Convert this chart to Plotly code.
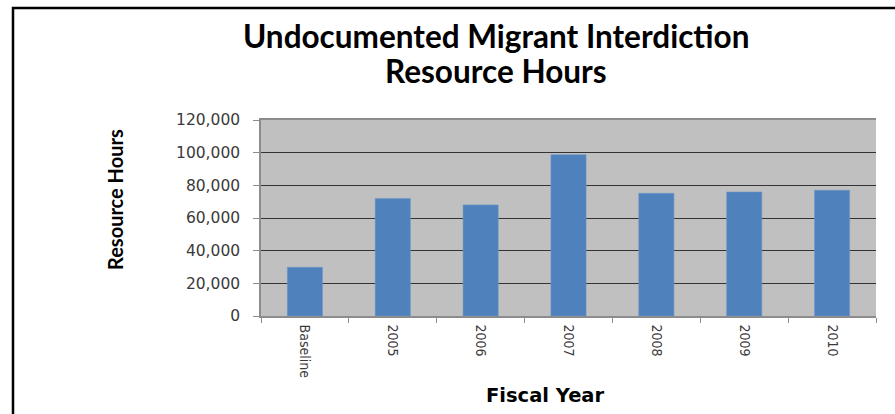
import plotly.graph_objects as go

# Fiscal years and resource hours
categories = ["Baseline", "2005", "2006", "2007", "2008", "2009", "2010"]
hours = [29800, 72000, 68000, 98800, 75100, 75900, 77000]
y_ticks = [0, 20000, 40000, 60000, 80000, 100000, 120000]
y_tick_labels = ["0", "20,000", "40,000", "60,000", "80,000", "100,000", "120,000"]
title_lines = ["Undocumented Migrant Interdiction", "Resource Hours"]

W, H = 895, 414
L, R, T, B = 261, 19, 120, 98
pw, ph = W - L - R, H - T - B


def px_x(x):
    return (x - L) / pw


def px_y(y):
    return (T + ph - y) / ph


fig = go.Figure(
    go.Bar(
        x=categories,
        y=hours,
        marker=dict(color="#4F81BD", line=dict(color="#6F96C8", width=0.6)),
    )
)

fig.update_layout(
    width=W,
    height=H,
    margin=dict(l=L, r=R, t=T, b=B, pad=0),
    paper_bgcolor="white",
    plot_bgcolor="#C0C0C0",
    bargap=0.6,
    showlegend=False,
    font=dict(family="DejaVu Sans", color="#3a3a3a"),
)

fig.update_xaxes(
    type="category",
    tickangle=90,
    ticks="outside",
    tickson="boundaries",
    ticklen=5,
    tickcolor="#8c8c8c",
    showline=True,
    linecolor="#8c8c8c",
    linewidth=1.5,
    mirror=True,
    showgrid=False,
    ticklabelstandoff=4,
    tickfont=dict(family="DejaVu Sans Condensed, DejaVu Sans", size=14, color="#3a3a3a"),
)

fig.update_yaxes(
    range=[0, 120000],
    tickvals=y_ticks,
    ticktext=y_tick_labels,
    ticks="outside",
    ticklen=6,
    tickcolor="#8c8c8c",
    showline=True,
    linecolor="#8c8c8c",
    linewidth=1.5,
    showgrid=True,
    gridcolor="#333333",
    gridwidth=1,
    zeroline=False,
    ticklabelstandoff=10,
    tickfont=dict(family="DejaVu Sans", size=15.5, color="#3a3a3a"),
)

# Title, one annotation per line
for line, yc in zip(title_lines, [36, 71]):
    fig.add_annotation(
        text=f"<b>{line}</b>",
        xref="paper", yref="paper",
        x=px_x(496), y=px_y(yc),
        xanchor="center", yanchor="middle",
        showarrow=False,
        font=dict(family="Lato", size=31.5, color="black"),
    )

fig.add_annotation(
    text="<b>Fiscal Year</b>",
    xref="paper", yref="paper",
    x=px_x(545), y=px_y(395),
    xanchor="center", yanchor="middle",
    showarrow=False,
    font=dict(family="DejaVu Sans", size=19.5, color="black"),
)
fig.add_annotation(
    text="<b>Resource Hours</b>",
    xref="paper", yref="paper",
    x=px_x(115), y=px_y(200),
    xanchor="center", yanchor="middle",
    textangle=-90,
    showarrow=False,
    font=dict(family="Lato", size=20, color="black"),
)

# Chart frame (top and left edges fall inside the page)
fig.add_shape(
    type="rect",
    xref="paper", yref="paper",
    x0=px_x(13), x1=px_x(W + 20),
    y0=px_y(H + 20), y1=px_y(8),
    line=dict(color="black", width=2.5),
    fillcolor="rgba(0,0,0,0)",
    layer="below",
)

fig.write_html("out.html")
